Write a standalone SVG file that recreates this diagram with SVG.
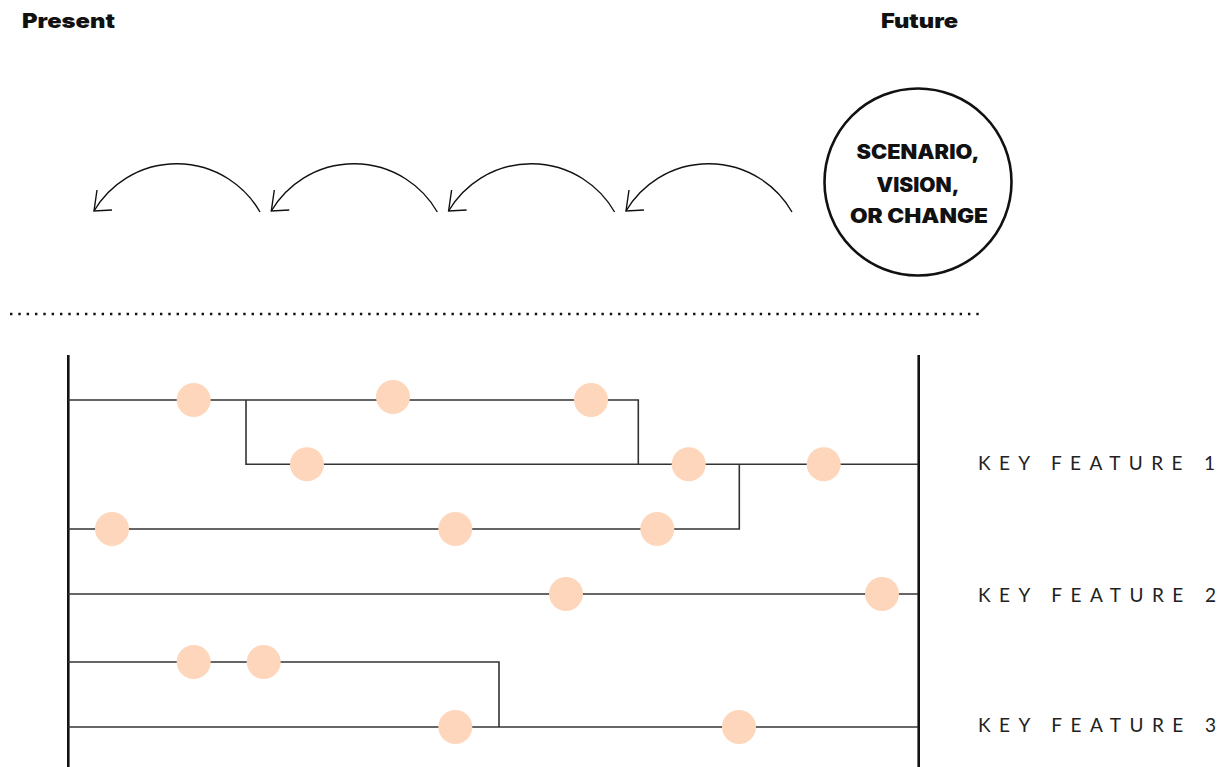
<svg xmlns="http://www.w3.org/2000/svg" width="1223" height="767" viewBox="0 0 1223 767">
  <style>
    .head { font-family: Inter, Lato, "Liberation Sans", sans-serif; font-weight: 900; font-size: 20px; fill: #111; }
    .goal { font-family: Inter, Lato, "Liberation Sans", sans-serif; font-weight: 900; font-size: 19.5px; fill: #111; text-anchor: middle; }
    .feature { font-family: Lato, "Liberation Sans", sans-serif; font-weight: 400; font-size: 19px; fill: #222; }
    .arc { fill: none; stroke: #111; stroke-width: 1.4; }
    .rail { stroke: #111; stroke-width: 2.6; }
    .path { fill: none; stroke: #333; stroke-width: 1.6; }
    .dot { fill: #fed6bb; }
  </style>

  <rect width="1223" height="767" fill="#fff"/>

  <!-- headings -->
  <g id="present">
    <text class="head" x="22" y="28" textLength="93" lengthAdjust="spacingAndGlyphs">Present</text>
  </g>
  <g id="future">
    <text class="head" x="881" y="28" textLength="77" lengthAdjust="spacingAndGlyphs">Future</text>
  </g>

  <!-- goal circle -->
  <g id="goal">
    <circle cx="918" cy="182" r="93.5" fill="#fff" stroke="#111" stroke-width="2.6"/>
    <text class="goal" x="918" y="158.5" textLength="123" lengthAdjust="spacingAndGlyphs">SCENARIO,</text>
    <text class="goal" x="918" y="191.5" textLength="83" lengthAdjust="spacingAndGlyphs">VISION,</text>
    <text class="goal" x="919" y="222.5" textLength="138" lengthAdjust="spacingAndGlyphs">OR CHANGE</text>
  </g>

  <!-- backcasting arrows -->
  <g id="backcast">
    <g id="step1">
      <path class="arc" d="M260,212 A96,96 0 0 0 94,211"/>
      <path class="arc" d="M97,190 L94,211 L112,210"/>
    </g>
    <g id="step2" transform="translate(177.3,0)">
      <path class="arc" d="M260,212 A96,96 0 0 0 94,211"/>
      <path class="arc" d="M97,190 L94,211 L112,210"/>
    </g>
    <g id="step3" transform="translate(354.6,0)">
      <path class="arc" d="M260,212 A96,96 0 0 0 94,211"/>
      <path class="arc" d="M97,190 L94,211 L112,210"/>
    </g>
    <g id="step4" transform="translate(532,0)">
      <path class="arc" d="M260,212 A96,96 0 0 0 94,211"/>
      <path class="arc" d="M97,190 L94,211 L112,210"/>
    </g>
  </g>

  <!-- divider -->
  <g id="divider">
    <line x1="10" y1="314" x2="972" y2="314" stroke="#111" stroke-width="2.4" stroke-dasharray="2.4 5.93"/>
    <rect x="976.3" y="312.8" width="2.4" height="2.4" fill="#111"/>
  </g>

  <!-- timeline rails -->
  <g id="rails">
    <line class="rail" x1="68.3" y1="355" x2="68.3" y2="767"/>
    <line class="rail" x1="918.7" y1="355" x2="918.7" y2="767"/>
  </g>

  <!-- pathways -->
  <g id="connectors">
    <polyline class="path" points="68,400 638.3,400 638.3,464.3"/>
    <polyline class="path" points="246,400 246,464.3 918,464.3"/>
    <polyline class="path" points="68,529 739.3,529 739.3,464.3"/>
    <line class="path" x1="68" y1="594" x2="918" y2="594"/>
    <polyline class="path" points="68,662 499,662 499,727"/>
    <line class="path" x1="68" y1="727" x2="918" y2="727"/>
  </g>

  <!-- milestones -->
  <g id="milestones">
    <circle class="dot" cx="193.7" cy="400" r="17"/>
    <circle class="dot" cx="393" cy="397" r="17"/>
    <circle class="dot" cx="591" cy="400" r="17"/>
    <circle class="dot" cx="307" cy="464.3" r="17"/>
    <circle class="dot" cx="688.7" cy="464.3" r="17"/>
    <circle class="dot" cx="823.7" cy="464.3" r="17"/>
    <circle class="dot" cx="112" cy="529" r="17"/>
    <circle class="dot" cx="455.3" cy="529" r="17"/>
    <circle class="dot" cx="657.3" cy="529" r="17"/>
    <circle class="dot" cx="566" cy="594" r="17"/>
    <circle class="dot" cx="882" cy="594" r="17"/>
    <circle class="dot" cx="193.7" cy="662" r="17"/>
    <circle class="dot" cx="263.7" cy="662" r="17"/>
    <circle class="dot" cx="455.3" cy="727" r="17"/>
    <circle class="dot" cx="739" cy="727" r="17"/>
  </g>

  <!-- feature labels -->
  <g id="feature1">
    <text class="feature" x="978" y="470" textLength="237" lengthAdjust="spacing">KEY FEATURE 1</text>
  </g>
  <g id="feature2">
    <text class="feature" x="978" y="602" textLength="238" lengthAdjust="spacing">KEY FEATURE 2</text>
  </g>
  <g id="feature3">
    <text class="feature" x="978" y="732" textLength="238" lengthAdjust="spacing">KEY FEATURE 3</text>
  </g>
</svg>
